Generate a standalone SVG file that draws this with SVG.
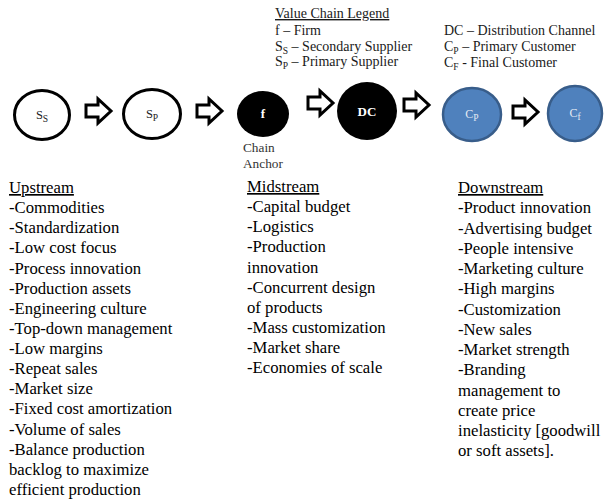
<svg xmlns="http://www.w3.org/2000/svg" width="605" height="501" viewBox="0 0 605 501">
<style>
text{font-family:"Liberation Serif","Times New Roman",serif;fill:#000}
.lg{font-size:14px;fill:#1a1a1a}
.ls{font-size:16.7px}
.ul{text-decoration:underline}
.sub{font-size:9.5px}
.ring{fill:#fff;stroke:#000;stroke-width:3}
.solid{fill:#000}
.blue{fill:#4F81BD;stroke:#385D8A;stroke-width:2.5}
.nl{font-size:12.5px;text-anchor:middle;fill:#222}
.wl{font-size:13px;font-weight:bold;text-anchor:middle;fill:#fff}
.bl{font-size:12px;text-anchor:middle;fill:#e4ebf4}
.arr{fill:#fff;stroke:#000;stroke-width:3;stroke-linejoin:miter}
</style>
<defs>
<path id="blk" d="M0,-6 H12 V-12 L25,0 L12,12 V6 H0 Z"/>
</defs>

<g id="legend">
<text class="lg ul" x="275" y="18">Value Chain Legend</text>
<text class="lg" x="275" y="34.5">f – Firm</text>
<text class="lg" x="275" y="50.5">S<tspan class="sub" dy="3">S</tspan><tspan dy="-3"> – Secondary Supplier</tspan></text>
<text class="lg" x="275" y="66">S<tspan class="sub" dy="3">P</tspan><tspan dy="-3"> – Primary Supplier</tspan></text>
<text class="lg" x="444" y="35">DC – Distribution Channel</text>
<text class="lg" x="444" y="51">C<tspan class="sub" dy="3">P</tspan><tspan dy="-3"> – Primary Customer</tspan></text>
<text class="lg" x="444" y="67">C<tspan class="sub" dy="3">F</tspan><tspan dy="-3"> - Final Customer</tspan></text>
</g>

<g id="node-ss">
<ellipse class="ring" cx="42" cy="115" rx="27.5" ry="24.5"/>
<text class="nl" x="42" y="119">S<tspan class="sub" dy="3">S</tspan></text>
</g>
<g id="node-sp">
<ellipse class="ring" cx="152" cy="114" rx="28.5" ry="24.5"/>
<text class="nl" x="152" y="118">S<tspan class="sub" dy="3">P</tspan></text>
</g>
<g id="node-f">
<ellipse class="solid" cx="263" cy="114" rx="26" ry="23"/>
<text class="wl" x="263" y="118">f</text>
</g>
<g id="node-dc">
<ellipse class="solid" cx="367" cy="111" rx="30" ry="29"/>
<text class="wl" x="367" y="116">DC</text>
</g>
<g id="node-cp">
<ellipse class="blue" cx="472" cy="114.5" rx="29" ry="26.5"/>
<text class="bl" x="472" y="118">C<tspan class="sub" dy="3">P</tspan></text>
</g>
<g id="node-cf">
<ellipse class="blue" cx="575" cy="113.5" rx="27" ry="27.5"/>
<text class="bl" x="575" y="117">C<tspan class="sub" dy="3">f</tspan></text>
</g>

<g id="connectors">
<use href="#blk" class="arr" x="86" y="111"/>
<use href="#blk" class="arr" x="197" y="111"/>
<use href="#blk" class="arr" x="308" y="103"/>
<use href="#blk" class="arr" x="404" y="105"/>
<use href="#blk" class="arr" x="513" y="112"/>
</g>

<g id="anchor-label">
<text x="243" y="152" style="font-size:13.3px;fill:#333">Chain</text>
<text x="243" y="168" style="font-size:13.3px;fill:#333">Anchor</text>
</g>

<g id="upstream">
<text class="ls" x="9" y="193"><tspan class="ul">Upstream</tspan><tspan x="9" dy="20.13">-Commodities</tspan><tspan x="9" dy="20.13">-Standardization</tspan><tspan x="9" dy="20.13">-Low cost focus</tspan><tspan x="9" dy="20.13">-Process innovation</tspan><tspan x="9" dy="20.13">-Production assets</tspan><tspan x="9" dy="20.13">-Engineering culture</tspan><tspan x="9" dy="20.13">-Top-down management</tspan><tspan x="9" dy="20.13">-Low margins</tspan><tspan x="9" dy="20.13">-Repeat sales</tspan><tspan x="9" dy="20.13">-Market size</tspan><tspan x="9" dy="20.13">-Fixed cost amortization</tspan><tspan x="9" dy="20.13">-Volume of sales</tspan><tspan x="9" dy="20.13">-Balance production</tspan><tspan x="9" dy="20.13">backlog to maximize</tspan><tspan x="9" dy="20.13">efficient production</tspan></text>
</g>

<g id="midstream">
<text class="ls" x="247" y="192"><tspan class="ul">Midstream</tspan><tspan x="247" dy="20.13">-Capital budget</tspan><tspan x="247" dy="20.13">-Logistics</tspan><tspan x="247" dy="20.13">-Production</tspan><tspan x="247" dy="20.13">innovation</tspan><tspan x="247" dy="20.13">-Concurrent design</tspan><tspan x="247" dy="20.13">of products</tspan><tspan x="247" dy="20.13">-Mass customization</tspan><tspan x="247" dy="20.13">-Market share</tspan><tspan x="247" dy="20.13">-Economies of scale</tspan></text>
</g>

<g id="downstream">
<text class="ls" x="458" y="193"><tspan class="ul">Downstream</tspan><tspan x="458" dy="20.25">-Product innovation</tspan><tspan x="458" dy="20.25">-Advertising budget</tspan><tspan x="458" dy="20.25">-People intensive</tspan><tspan x="458" dy="20.25">-Marketing culture</tspan><tspan x="458" dy="20.25">-High margins</tspan><tspan x="458" dy="20.25">-Customization</tspan><tspan x="458" dy="20.25">-New sales</tspan><tspan x="458" dy="20.25">-Market strength</tspan><tspan x="458" dy="20.25">-Branding</tspan><tspan x="458" dy="20.25">management to</tspan><tspan x="458" dy="20.25">create price</tspan><tspan x="458" dy="20.25">inelasticity [goodwill</tspan><tspan x="458" dy="20.25">or soft assets].</tspan></text>
</g>
</svg>
